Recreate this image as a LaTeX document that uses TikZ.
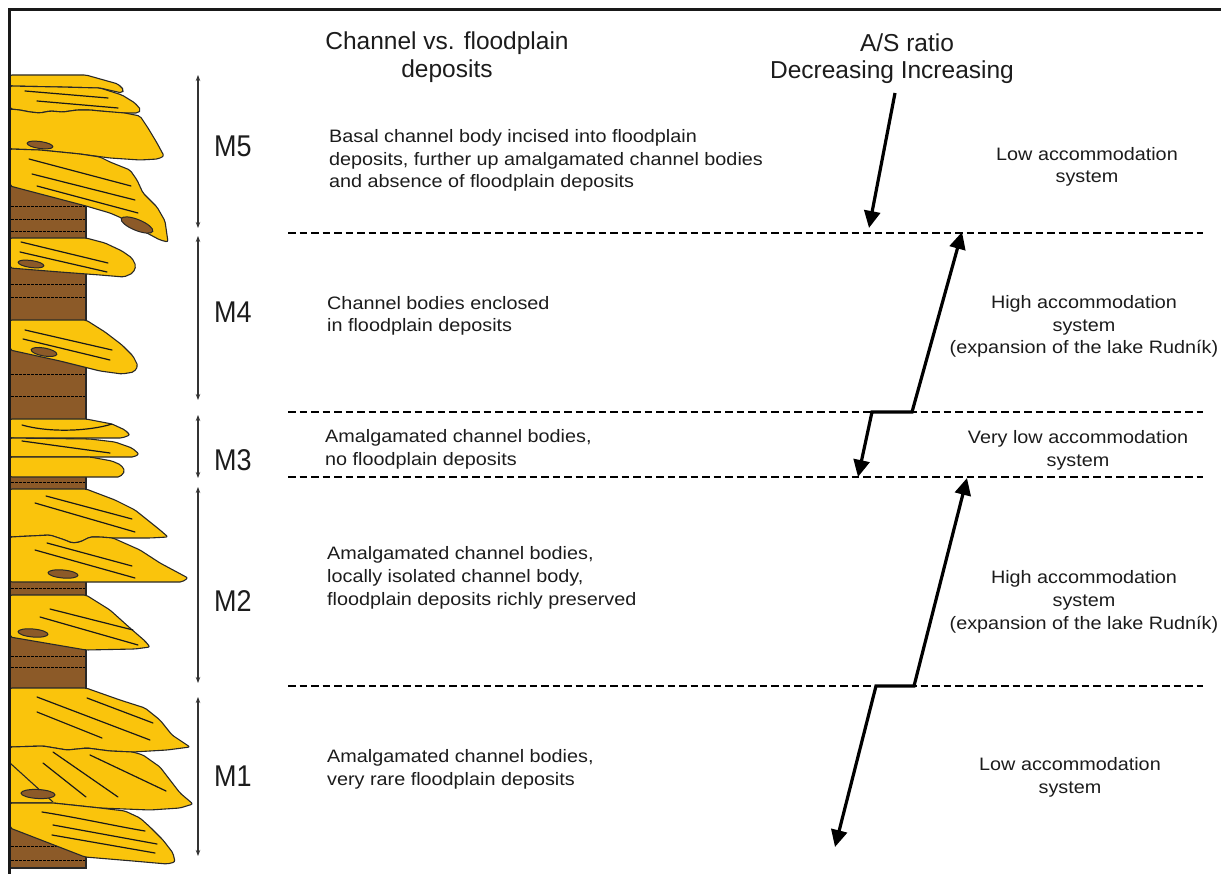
\documentclass[tikz,border=0pt]{standalone}
\usepackage{fontspec}
\setmainfont{Liberation Sans}
\newfontfamily\widesans[FakeStretch=1.1]{Liberation Sans}
\newfontfamily\narrowsans[FakeStretch=0.9]{Liberation Sans}
\usetikzlibrary{arrows.meta}
\definecolor{sand}{RGB}{250,196,12}
\definecolor{mud}{RGB}{140,90,40}
\definecolor{edge}{RGB}{40,40,40}
\definecolor{ink}{RGB}{28,28,28}
\begin{document}
\begin{tikzpicture}[x=1pt,y=-1pt,
  body/.style={fill=sand, draw=edge, line width=1.1pt, rounded corners=2pt, line join=round},
  bed/.style={draw=black!90, line width=1.2pt, line cap=round},
  clast/.style={fill=mud, draw=edge, line width=1pt},
  mudline/.style={draw=black, line width=0.7pt, dash pattern=on 2.5pt off 1.5pt},
  span/.style={draw=black!80, line width=1.1pt, {Stealth[length=6pt,width=4.5pt]}-{Stealth[length=6pt,width=4.5pt]}},
  sep/.style={draw=black, line width=2.8pt, dash pattern=on 7.5pt off 4pt},
  trend/.style={draw=black, line width=3.2pt, line join=miter},
  unit/.style={font=\narrowsans\fontsize{30}{32}\selectfont, text=ink, anchor=base, inner sep=0pt},
  head/.style={font=\fontsize{24.5}{28}\selectfont, text=ink, align=center, anchor=base, inner sep=0pt},
  txt/.style={font=\widesans\fontsize{18}{22.8}\selectfont, text=ink, inner sep=0pt},
  note/.style={txt, align=left, anchor=base west},
  sys/.style={txt, align=center, anchor=base}]
\useasboundingbox (0,0) rectangle (1221,874);
\fill[white] (0,0) rectangle (1221,874);

% ---- mudstone column with lamination ----
\filldraw[fill=mud, draw=edge, line width=1.1pt] (10,186) rectangle (86,868);
\foreach \yy in {206,219,231,284,297,374,396,482,588,656,667,846,860}
  \draw[mudline] (11,\yy) -- (85,\yy);

% ---- channel sandstone bodies ----
% M5
\filldraw[body] (10,75) -- (86,75) -- (118,84) -- (124,90) -- (122,93) -- (100,88) -- (60,87) -- (10,86) -- cycle;
\filldraw[body] (10,86) -- (60,87) -- (100,88) -- (122,95) -- (135,103) -- (141,110) -- (138,113) -- (120,113) -- (100,111) -- (90,110) -- (77,110) -- (63,112) -- (50,111) -- (40,113) -- (30,112) -- (20,110) -- (10,109) -- cycle;
\filldraw[body] (10,109) -- (20,110) -- (30,112) -- (40,113) -- (50,111) -- (63,112) -- (77,110) -- (90,110) -- (100,111) -- (125,113) -- (140,116) -- (148,128) -- (157,143) -- (164,156) -- (158,159) -- (140,160) -- (110,158) -- (80,154) -- (40,150) -- (10,149) -- cycle;
\filldraw[body] (10,149) -- (40,150) -- (80,154) -- (100,157) -- (110,162) -- (130,170) -- (137,180) -- (143,193) -- (157,207) -- (165,221) -- (168,242) -- (160,240) -- (145,232) -- (133,223) -- (110,213) -- (86,206) -- (10,186) -- cycle;
\draw[bed] (25,91) -- (108,98);
\draw[bed] (37,101) -- (118,108);
\draw[bed] (29,159) -- (131,186);
\draw[bed] (32,174) -- (135,200);
\draw[bed] (37,186) -- (138,213);
\draw[clast, rotate around={-8:(40,145)}] (40,145) ellipse [x radius=13pt, y radius=3.5pt];
\draw[clast, rotate around={-22:(137,225)}] (137,225) ellipse [x radius=17pt, y radius=5.5pt];
% M4
\filldraw[body] (10,238) -- (86,238) -- (105,243) -- (122,251) -- (132,258) -- (136,266) -- (133,273) -- (124,277) -- (100,275) -- (60,272) -- (10,268) -- cycle;
\draw[bed] (21,242) -- (108,263);
\draw[bed] (20,252) -- (107,272);
\draw[clast, rotate around={-8:(31,264)}] (31,264) ellipse [x radius=13pt, y radius=3.5pt];
\filldraw[body] (10,320) -- (86,320) -- (105,332) -- (122,345) -- (133,356) -- (138,366) -- (134,372) -- (122,374) -- (100,371) -- (60,361) -- (10,350) -- cycle;
\draw[bed] (25,330) -- (112,350);
\draw[bed] (23,339) -- (110,360);
\draw[clast, rotate around={-10:(44,352)}] (44,352) ellipse [x radius=13pt, y radius=4pt];
% M3
\filldraw[body] (10,419) -- (86,419) -- (112,424) -- (125,430) -- (130,435) -- (122,438) -- (10,438) -- cycle;
\filldraw[body] (10,438) -- (90,439) -- (115,442) -- (132,448) -- (139,454) -- (134,457) -- (10,457) -- cycle;
\filldraw[body] (10,457) -- (90,457) -- (112,461) -- (121,465) -- (125,471) -- (120,477) -- (10,477) -- cycle;
\draw[bed] (22,425) .. controls (50,433) and (90,431) .. (112,424);
\draw[bed] (22,441) -- (110,453);
% M2
\filldraw[body] (10,489) -- (86,489) -- (115,500) -- (135,510) -- (150,522) -- (160,530) -- (168,537) -- (150,538) -- (113,538) -- (100,537) -- (90,537) -- (80,542) -- (72,543) -- (65,540) -- (50,535) -- (10,537) -- cycle;
\filldraw[body] (10,537) -- (50,535) -- (65,540) -- (72,543) -- (80,542) -- (90,537) -- (100,537) -- (113,538) -- (140,550) -- (160,563) -- (188,578) -- (182,582) -- (150,582) -- (10,582) -- cycle;
\filldraw[body] (10,595) -- (86,595) -- (110,610) -- (130,628) -- (145,641) -- (150,647) -- (135,649) -- (86,650) -- (10,637) -- cycle;
\draw[bed] (46,496) -- (132,519);
\draw[bed] (35,503) -- (135,532);
\draw[bed] (47,543) -- (132,566);
\draw[bed] (35,550) -- (135,578);
\draw[bed] (50,609) -- (133,630);
\draw[bed] (40,617) -- (138,645);
\draw[clast, rotate around={-5:(63,574)}] (63,574) ellipse [x radius=15pt, y radius=4pt];
\draw[clast, rotate around={-5:(33,633)}] (33,633) ellipse [x radius=15pt, y radius=4pt];
% M1
\filldraw[body] (10,688) -- (86,688) -- (120,700) -- (145,708) -- (160,720) -- (172,735) -- (190,747) -- (167,750) -- (133,752) -- (110,751) -- (87,748) -- (67,750) -- (43,746) -- (10,747) -- cycle;
\filldraw[body] (10,747) -- (43,746) -- (67,750) -- (87,748) -- (110,751) -- (133,752) -- (143,755) -- (160,767) -- (170,780) -- (180,793) -- (193,804) -- (180,808) -- (150,810) -- (100,808) -- (53,803) -- (10,803) -- cycle;
\filldraw[body] (10,803) -- (53,803) -- (100,808) -- (125,811) -- (140,818) -- (150,827) -- (163,840) -- (173,853) -- (175,862) -- (167,864) -- (133,861) -- (85,857) -- (10,828) -- cycle;
\draw[bed] (37,697) -- (150,740);
\draw[bed] (37,712) -- (102,738);
\draw[bed] (87,698) -- (153,723);
\draw[bed] (53,752) -- (118,797);
\draw[bed] (43,763) -- (86,797);
\draw[bed] (90,755) -- (166,791);
\draw[edge, line width=1.1pt] (10,763) -- (53,802);
\draw[clast, rotate around={-3:(38,794)}] (38,794) ellipse [x radius=17pt, y radius=4.5pt];
\draw[bed] (42,812) .. controls (80,818) and (115,826) .. (145,831);
\draw[bed] (53,825) -- (157,844);
\draw[bed] (52,835) -- (155,853);

% ---- frame ----
\draw[black!90, line width=3.2pt] (9.2,874) -- (9.2,9.5) -- (1221,9.5);

% ---- unit spans and labels ----
\coordinate (s5a) at (198,75);  \coordinate (s5b) at (198,228);
\coordinate (s4a) at (198,236); \coordinate (s4b) at (198,400);
\coordinate (s3a) at (198,415); \coordinate (s3b) at (198,478);
\coordinate (s2a) at (198,487); \coordinate (s2b) at (198,683);
\coordinate (s1a) at (198,697); \coordinate (s1b) at (198,856);
\draw[span] (s5a) -- (s5b);
\draw[span] (s4a) -- (s4b);
\draw[span] (s3a) -- (s3b);
\draw[span] (s2a) -- (s2b);
\draw[span] (s1a) -- (s1b);
\node[unit] (m5) at (233,157) {M5};
\node[unit] (m4) at (233,323) {M4};
\node[unit] (m3) at (233,470) {M3};
\node[unit] (m2) at (233,611) {M2};
\node[unit] (m1) at (233,786) {M1};

% ---- unit boundaries ----
\foreach \yy/\nm in {233/b54,412/b43,477/b32,686/b21}{
  \coordinate (\nm w) at (288,\yy);
  \coordinate (\nm e) at (1203,\yy);
  \draw[sep] (\nm w) -- (\nm e);
}

% ---- headings (a node's base is the baseline of its last line) ----
\node[head] (h1) at (447,78) {Channel vs. floodplain\\deposits};
\node[head] (h2) at (907,52) {A/S ratio};
\node[head] (h3) at (892,79) {Decreasing Increasing};

% ---- descriptions ----
\node[note] (d5) at (329,188) {Basal channel body incised into floodplain\\deposits, further up amalgamated channel bodies\\and absence of floodplain deposits};
\node[note] (d4) at (327,332) {Channel bodies enclosed\\in floodplain deposits};
\node[note] (d3) at (325,465) {Amalgamated channel bodies,\\no floodplain deposits};
\node[note] (d2) at (327,605) {Amalgamated channel bodies,\\locally isolated channel body,\\floodplain deposits richly preserved};
\node[note] (d1) at (327,785) {Amalgamated channel bodies,\\very rare floodplain deposits};

\node[sys] (r5) at (1087,183) {Low accommodation\\system};
\node[sys] (r4) at (1084,354) {High accommodation\\system\\(expansion of the lake Rudník)};
\node[sys] (r3) at (1078,466) {Very low accommodation\\system};
\node[sys] (r2) at (1084,629) {High accommodation\\system\\(expansion of the lake Rudník)};
\node[sys] (r1) at (1070,793) {Low accommodation\\system};

% ---- A/S trend ----
\coordinate (a0) at (895,93);   \coordinate (a1) at (869,228);
\coordinate (p1) at (858,477);  \coordinate (p2) at (872,412);
\coordinate (p3) at (912,412);  \coordinate (p4) at (962,232);
\coordinate (q1) at (835,847);  \coordinate (q2) at (876,686);
\coordinate (q3) at (914,686);  \coordinate (q4) at (967,478);
\draw[trend, -{Triangle[length=17pt,width=16pt]}] (a0) -- (a1);
\draw[trend, {Triangle[length=17pt,width=16pt]}-{Triangle[length=17pt,width=16pt]}] (p1) -- (p2) -- (p3) -- (p4);
\draw[trend, {Triangle[length=17pt,width=16pt]}-{Triangle[length=17pt,width=16pt]}] (q1) -- (q2) -- (q3) -- (q4);
\end{tikzpicture}
\end{document}
